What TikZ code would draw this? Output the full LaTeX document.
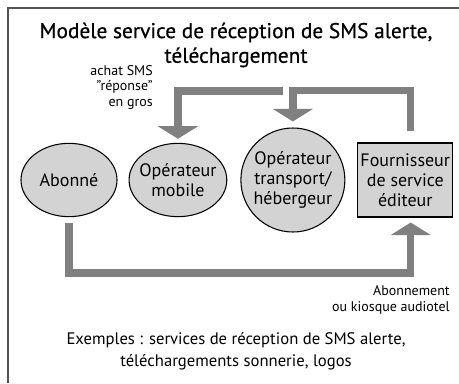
\documentclass[tikz,border=0pt]{standalone}
\usepackage{fontspec}
\setmainfont{PT Sans}
\usepackage{tikz}
\usetikzlibrary{shapes.geometric,arrows.meta,positioning}
\definecolor{grisfleche}{HTML}{808080}
\definecolor{grisnoeud}{HTML}{D3D3D3}
\definecolor{griscadre}{HTML}{555555}
\tikzset{
  bulle/.style  = {ellipse, draw=black, line width=0.8pt, fill=grisnoeud,
                   align=center, font=\fontsize{13.5}{15}\selectfont,
                   minimum width=72pt, minimum height=55pt, inner xsep=-3pt, inner ysep=0pt},
  rond/.style   = {circle, draw=black, line width=0.8pt, fill=grisnoeud,
                   align=center, font=\fontsize{13.5}{15}\selectfont,
                   minimum size=78pt, inner sep=0pt},
  boite/.style  = {rectangle, draw=black, line width=0.8pt, fill=grisnoeud,
                   align=center, font=\fontsize{13.5}{15}\selectfont,
                   minimum width=71pt, minimum height=55.5pt, inner sep=0pt},
  fleche/.style = {-{Triangle[width=30pt, length=9.5pt]}, line width=5.6pt, grisfleche},
  note/.style   = {align=right, font=\fontsize{10.5}{11.6}\selectfont, inner sep=0pt},
  cadre/.style  = {line width=1.9pt, griscadre},
}
\begin{document}
\begin{tikzpicture}[x=0.75pt, y=-0.75pt]
  \useasboundingbox (0,0) rectangle (459,383);
  \draw[cadre] (459,8) -- (8,8) -- (8,383);
  \node[align=center, font=\fontsize{16}{18.5}\selectfont\addfontfeature{FakeBold=0.6}] (titre) at (236,45)
    {Modèle service de réception de SMS alerte,\\ téléchargement};

  \node[bulle] (abonne) at (69,180) {Abonné};
  \node[bulle, right=8.25pt of abonne] (mobile) {Opérateur\\ mobile};
  \node[rond, right=9.75pt of mobile] (transport) {Opérateur\\ transport/\\ hébergeur};
  \node[boite, right=9pt of transport] (fournisseur) {Fournisseur\\ de service\\ éditeur};

  \node[note, anchor=north east] (achat) at (153,65) {achat SMS\\ "réponse"\\ en gros};
  \node[note, anchor=north east, font=\fontsize{10.5}{12}\selectfont] (abonnement) at (450,285)
    {Abonnement\\ ou kiosque audiotel};
  \node[align=center, font=\fontsize{12.5}{16.5}\selectfont] (exemples) at (236,351)
    {Exemples : services de réception de SMS alerte,\\ téléchargements sonnerie, logos};

  \coordinate (depart) at (283,91);
  \draw[fleche, shorten >=3pt] (depart) -| (mobile.north);
  \draw[fleche, shorten <=8.25pt, shorten >=4.5pt]
    ([xshift=4.1pt]fournisseur.north) -- ++(0,-52) -| (transport.north);
  \draw[fleche, shorten <=4.5pt, shorten >=3.75pt]
    (abonne.south) -- ++(0,56) -| ([xshift=4.1pt]fournisseur.south);
\end{tikzpicture}
\end{document}
